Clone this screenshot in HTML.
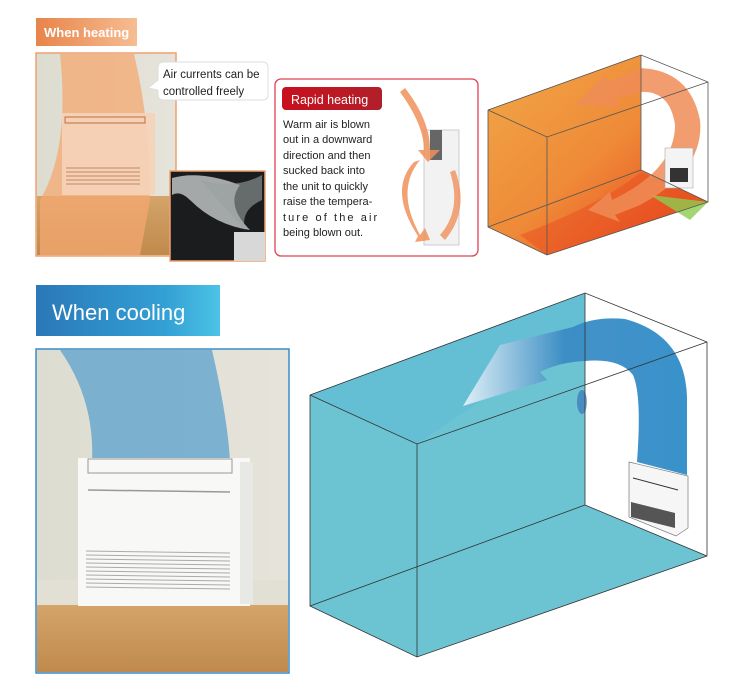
<!DOCTYPE html>
<html><head><meta charset="utf-8"><style>
html,body{margin:0;padding:0;background:#fff;}
svg{display:block;}
text{font-family:"Liberation Sans",Arial,sans-serif;}
</style></head><body>
<svg width="729" height="692" viewBox="0 0 729 692" xmlns="http://www.w3.org/2000/svg">
<defs>
<linearGradient id="hl" x1="0" x2="1"><stop offset="0" stop-color="#e8844a"/><stop offset="1" stop-color="#f6bd92"/></linearGradient>
<linearGradient id="cl" x1="0" x2="1"><stop offset="0" stop-color="#2a78b8"/><stop offset="0.7" stop-color="#33a0d4"/><stop offset="1" stop-color="#4cc3e6"/></linearGradient>
<linearGradient id="rh" x1="0" x2="1"><stop offset="0" stop-color="#c8101e"/><stop offset="1" stop-color="#b0202a"/></linearGradient>
<linearGradient id="wall" x1="0" x2="1"><stop offset="0" stop-color="#dcdcd0"/><stop offset="1" stop-color="#e6e4da"/></linearGradient>
<linearGradient id="floor" x1="0" y1="0" x2="0" y2="1"><stop offset="0" stop-color="#d4a46a"/><stop offset="1" stop-color="#c08a4c"/></linearGradient>
<linearGradient id="ca" x1="1" x2="0"><stop offset="0" stop-color="#2f8cc8"/><stop offset="0.55" stop-color="#3a8cc4"/><stop offset="1" stop-color="#e6f2f8"/></linearGradient>
<linearGradient id="heat" x1="0" y1="0" x2="1" y2="1"><stop offset="0" stop-color="#f0a848"/><stop offset="0.5" stop-color="#ef8a38"/><stop offset="0.8" stop-color="#e85a24"/><stop offset="1" stop-color="#e86a30"/></linearGradient>
</defs>

<rect x="36" y="18" width="101" height="28" fill="url(#hl)"/>
<text x="44" y="37" font-size="13" font-weight="bold" fill="#fff">When heating</text>

<rect x="36" y="53" width="140" height="203" fill="url(#wall)" stroke="#f0a070" stroke-width="1.5"/>
<rect x="37" y="196" width="138" height="59" fill="url(#floor)"/>
<path d="M60 54 L134 54 Q150 120 150 200 L140 255 L40 255 L40 200 Q70 150 60 54Z" fill="#f4a870" opacity="0.75"/>
<rect x="62" y="113" width="93" height="82" fill="#f7f4f0" opacity="0.85"/>
<rect x="62" y="113" width="93" height="82" fill="#f4b080" opacity="0.45"/>
<rect x="65" y="117" width="80" height="6" fill="none" stroke="#c07040" stroke-width="1"/>
<g stroke="#b07050" stroke-width="0.8"><line x1="66" y1="168" x2="140" y2="168"/><line x1="66" y1="172" x2="140" y2="172"/><line x1="66" y1="176" x2="140" y2="176"/><line x1="66" y1="180" x2="140" y2="180"/><line x1="66" y1="184" x2="140" y2="184"/></g>
<path d="M160 62 H262 Q268 62 268 68 V95 Q268 100 262 100 H164 Q158 100 158 95 V90 L148 88 L158 80 V68 Q158 62 164 62Z" fill="#fff" stroke="#ddd"/>
<text x="163" y="78" font-size="11.5" fill="#222">Air currents can be</text>
<text x="163" y="95" font-size="11.5" fill="#222">controlled freely</text>
<rect x="170" y="171" width="95" height="90" fill="#1a1c1e" stroke="#f0a070" stroke-width="1.5"/>
<path d="M172 178 Q200 170 240 185 Q225 205 250 230 Q215 225 190 200 Q180 190 172 195Z" fill="#c8cccc" opacity="0.8"/>
<path d="M200 180 Q235 190 262 175 L262 200 Q240 210 245 230Z" fill="#9aa0a0" opacity="0.6"/>
<rect x="234" y="232" width="31" height="29" fill="#d8d8d8"/>

<rect x="275" y="79" width="203" height="177" rx="6" fill="#fff" stroke="#e04050" stroke-width="1.3"/>
<rect x="282" y="87" width="100" height="23" rx="4" fill="url(#rh)"/>
<text x="291" y="104" font-size="12.5" fill="#fff">Rapid heating</text>
<g font-size="11" fill="#222">
<text x="283" y="128">Warm air is blown</text>
<text x="283" y="143">out in a downward</text>
<text x="283" y="159">direction and then</text>
<text x="283" y="174">sucked back into</text>
<text x="283" y="190">the unit to quickly</text>
<text x="283" y="205">raise the tempera-</text>
<text x="283" y="221" letter-spacing="2.1">ture of the air</text>
<text x="283" y="236">being blown out.</text>
</g>
<rect x="424" y="130" width="35" height="115" fill="#f2f2f2" stroke="#ccc"/>
<rect x="430" y="130" width="12" height="30" fill="#666"/>
<path d="M405 88 Q430 120 430 150 L440 150 L428 162 L418 150 L424 150 Q424 125 400 92Z" fill="#f0905a" opacity="0.85"/>
<path d="M420 160 Q395 190 420 235 L425 228 L430 240 L415 242 L418 236 Q388 190 414 162Z" fill="#f0905a" opacity="0.85"/>
<path d="M455 170 Q470 210 445 240 L440 235 Q462 210 450 172Z" fill="#f0905a" opacity="0.8"/>

<polygon points="488,110 641,55 641,170 708,202 547,255 488,227" fill="url(#heat)"/>
<path d="M520 235 Q600 205 641 172 L708 202 L547 255Z" fill="#e84a20" opacity="0.45"/>
<path d="M650 195 L708 202 L690 220Z" fill="#8ccc50" opacity="0.8"/>
<path d="M640 68 Q690 70 700 120 Q705 170 640 205 L615 215 L620 222 L588 210 L610 192 L612 200 Q675 170 675 125 Q670 90 640 92 L615 98 L620 106 L575 105 L605 75 L608 82Z" fill="#f08c56" opacity="0.85"/>
<rect x="665" y="148" width="28" height="40" fill="#f4f4f4" stroke="#aaa" stroke-width="0.6"/>
<rect x="670" y="168" width="18" height="14" fill="#333"/>
<g fill="none" stroke="#555" stroke-width="0.8">
<polyline points="488,110 641,55 708,82 708,202 547,255 488,227 488,110"/>
<polyline points="488,110 547,137 708,82"/>
<line x1="547" y1="137" x2="547" y2="255"/>
<polyline points="641,55 641,170 708,202"/>
<line x1="488" y1="227" x2="641" y2="170"/>
</g>

<rect x="36" y="285" width="184" height="51" fill="url(#cl)"/>
<text x="52" y="320" font-size="22" fill="#fff">When cooling</text>

<rect x="36" y="349" width="253" height="324" fill="url(#wall)" stroke="#3a8cc8" stroke-width="1.5"/>
<rect x="37" y="580" width="251" height="30" fill="#e2e0d4"/>
<rect x="37" y="605" width="251" height="67" fill="url(#floor)"/>
<path d="M60 350 L212 350 Q228 420 230 462 L92 462 Q95 400 60 350Z" fill="#5aa0cc" opacity="0.75"/>
<rect x="78" y="458" width="172" height="148" fill="#f8f8f6"/>
<rect x="240" y="462" width="13" height="142" fill="#e8e8e4"/>
<rect x="88" y="459" width="144" height="14" fill="none" stroke="#999" stroke-width="1"/>
<line x1="88" y1="490" x2="230" y2="492" stroke="#999" stroke-width="1.5"/>
<g stroke="#aaa" stroke-width="1">
<line x1="86" y1="551" x2="230" y2="553"/><line x1="86" y1="555" x2="230" y2="557"/><line x1="86" y1="559" x2="230" y2="561"/><line x1="86" y1="563" x2="230" y2="565"/><line x1="86" y1="567" x2="230" y2="569"/><line x1="86" y1="571" x2="230" y2="573"/><line x1="86" y1="575" x2="230" y2="577"/><line x1="86" y1="579" x2="230" y2="581"/><line x1="86" y1="583" x2="230" y2="585"/><line x1="86" y1="587" x2="230" y2="589"/>
</g>

<polygon points="310,395 585,293 585,505 707,556 417,657 310,606" fill="#6cc4d2"/>
<polygon points="310,395 585,293 585,330 417,444" fill="#5cbad6" opacity="0.5"/>
<ellipse cx="582" cy="402" rx="5" ry="12" fill="#2a60b0" opacity="0.55"/>
<path d="M687,475 L687,397 Q685,335 625,319 Q595,316 573,327 L500,345 L463,406 L547,380 L540,372 Q560,362 585,361 Q620,358 633,375 Q642,395 637,462 Z" fill="url(#ca)" opacity="0.95"/>
<polygon points="629,462 688,476 688,528 676,536 629,517" fill="#f6f6f6" stroke="#777" stroke-width="0.7"/>
<line x1="633" y1="478" x2="678" y2="490" stroke="#333" stroke-width="1"/>
<polygon points="631,502 675,513 675,528 631,517" fill="#555"/>
<g fill="none" stroke="#333" stroke-width="0.8">
<polyline points="310,395 585,293 707,342 707,556 417,657 310,606 310,395"/>
<polyline points="310,395 417,444 707,342"/>
<line x1="417" y1="444" x2="417" y2="657"/>
<polyline points="585,293 585,505 707,556"/>
<line x1="310" y1="606" x2="585" y2="505"/>
</g>
</svg>
</body></html>
